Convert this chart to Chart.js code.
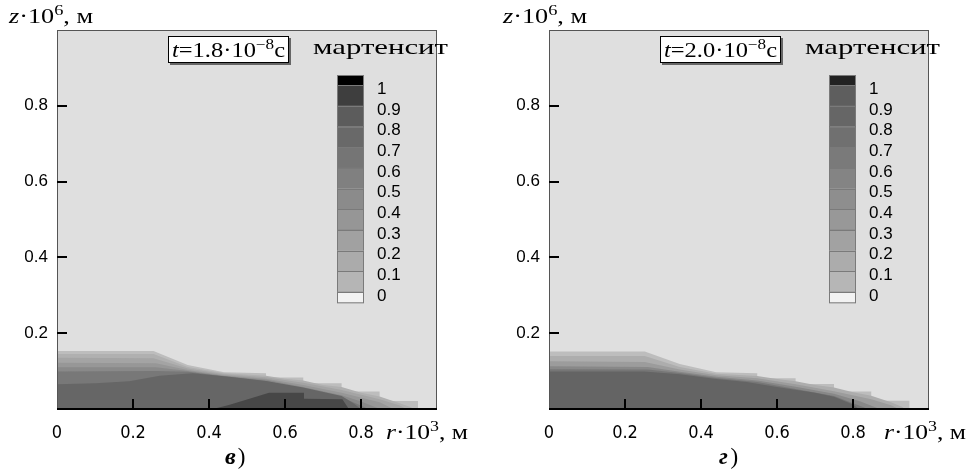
<!DOCTYPE html>
<html lang="ru">
<head>
<meta charset="UTF-8">
<title>Мартенсит</title>
<script src="https://cdn.jsdelivr.net/npm/chart.js"></script>
<style>
  html, body { margin: 0; padding: 0; background: #fff; }
  .wrap { display: flex; width: 970px; height: 472px; }
  canvas { display: block; }
</style>
</head>
<body>
<div class="wrap">
  <canvas id="chartB" width="485" height="472"></canvas>
  <canvas id="chartG" width="485" height="472"></canvas>
</div>
<script>
// axis ticks
const rTicks = [0, 0.2, 0.4, 0.6, 0.8];
const zTicks = [0.2, 0.4, 0.6, 0.8];
const levelLabels = ['1', '0.9', '0.8', '0.7', '0.6', '0.5', '0.4', '0.3', '0.2', '0.1', '0'];

// panel в), t = 1.8e-8 c : upper edge of each flooded band, [r, z], outer -> inner
const bOuter = [[0,0.153],[0.254,0.153],[0.344,0.116],[0.44,0.097],[0.55,0.094],[0.55,0.083],[0.648,0.083],[0.648,0.068],[0.749,0.068],[0.749,0.046],[0.849,0.046],[0.849,0.021],[0.95,0.021],[0.95,0]];
const bBand2 = [[0,0.145],[0.254,0.145],[0.344,0.111],[0.44,0.094],[0.55,0.088],[0.6,0.08],[0.648,0.075],[0.7,0.063],[0.749,0.058],[0.8,0.043],[0.849,0.033],[0.9,0.016],[0.93,0.005],[0.94,0]];
const bBand3 = [[0,0.135],[0.254,0.134],[0.344,0.107],[0.44,0.092],[0.55,0.084],[0.648,0.069],[0.749,0.05],[0.849,0.026],[0.9,0.01],[0.92,0]];
const bBand4 = [[0,0.122],[0.26,0.121],[0.344,0.103],[0.44,0.089],[0.55,0.08],[0.648,0.063],[0.749,0.043],[0.849,0.018],[0.885,0]];
const bBand5 = [[0,0.11],[0.26,0.11],[0.344,0.1],[0.44,0.087],[0.55,0.077],[0.648,0.058],[0.749,0.036],[0.8,0.02],[0.85,0]];
const bBand6 = [[0,0.099],[0.26,0.1],[0.344,0.098],[0.44,0.086],[0.55,0.074],[0.648,0.054],[0.749,0.031],[0.79,0.013],[0.82,0]];
const bCore = [[0,0.065],[0.1,0.068],[0.19,0.073],[0.27,0.088],[0.357,0.094],[0.453,0.085],[0.55,0.074],[0.648,0.057],[0.749,0.034],[0.78,0.015],[0.8,0]];
const bDark = [[0.41,0],[0.45,0.01],[0.5,0.025],[0.558,0.043],[0.65,0.043],[0.65,0.027],[0.751,0.026],[0.768,0]];

// panel г), t = 2.0e-8 c
const gOuter = [[0,0.152],[0.252,0.152],[0.344,0.119],[0.44,0.097],[0.548,0.094],[0.548,0.081],[0.649,0.081],[0.649,0.066],[0.75,0.066],[0.75,0.046],[0.848,0.046],[0.848,0.022],[0.949,0.022],[0.949,0]];
const gBand2 = [[0,0.14],[0.252,0.14],[0.344,0.111],[0.44,0.093],[0.548,0.087],[0.6,0.079],[0.649,0.073],[0.7,0.063],[0.75,0.057],[0.8,0.044],[0.848,0.035],[0.9,0.018],[0.93,0.005],[0.935,0]];
const gBand3 = [[0,0.126],[0.252,0.124],[0.344,0.104],[0.44,0.089],[0.548,0.081],[0.649,0.065],[0.75,0.047],[0.848,0.026],[0.9,0.01],[0.92,0]];
const gBand4 = [[0,0.113],[0.26,0.111],[0.344,0.098],[0.44,0.085],[0.548,0.075],[0.649,0.059],[0.75,0.04],[0.82,0.02],[0.87,0]];
const gBand5 = [[0,0.105],[0.26,0.104],[0.344,0.095],[0.44,0.082],[0.548,0.071],[0.649,0.053],[0.75,0.034],[0.8,0.015],[0.84,0]];
const gCore = [[0,0.099],[0.25,0.099],[0.344,0.092],[0.44,0.079],[0.52,0.071],[0.6,0.058],[0.7,0.043],[0.75,0.032],[0.8,0.012],[0.815,0]];

const bBands = [bOuter, bBand2, bBand3, bBand4, bBand5, bBand6, bCore, bDark];
const bColors = ['#bdbdbd', '#b0b0b0', '#a4a4a4', '#979797', '#898989', '#787878', '#666666', '#474747'];
const gBands = [gOuter, gBand2, gBand3, gBand4, gBand5, gCore];
const gColors = ['#bdbdbd', '#adadad', '#9c9c9c', '#888888', '#767676', '#646464'];

const bBarColors = ['#000000','#3e3e3e','#5c5c5c','#696969','#757575','#808080','#8b8b8b','#969696','#a1a1a1','#ababab','#b5b5b5','#f2f2f2'];
const gBarColors = ['#222222','#5e5e5e','#666666','#707070','#7a7a7a','#848484','#8e8e8e','#989898','#a2a2a2','#acacac','#b6b6b6','#f2f2f2'];

const SERIF = '"Liberation Serif", "DejaVu Serif", serif';
const SANS = '"Liberation Sans", Arial, sans-serif';

// draw a run of text pieces; sup pieces are raised; optional target width squeezes/stretches
function drawRich(ctx, parts, x, y, size, targetW) {
    const fontOf = p => `${p.italic ? 'italic ' : ''}${p.bold ? 'bold ' : ''}${p.sup ? Math.round(size * 0.7) : size}px ${SERIF}`;
    let w = 0;
    parts.forEach(p => { ctx.font = fontOf(p); w += ctx.measureText(p.t).width; });
    const k = targetW ? targetW / w : 1;
    ctx.save();
    ctx.translate(x, y);
    ctx.scale(k, 1);
    ctx.fillStyle = '#000';
    ctx.textBaseline = 'alphabetic';
    ctx.textAlign = 'left';
    let cx = 0;
    parts.forEach(p => {
        ctx.font = fontOf(p);
        ctx.fillText(p.t, cx, p.sup ? -size * 0.42 : 0);
        cx += ctx.measureText(p.t).width;
    });
    ctx.restore();
}

function makeChart(id, bands, colors, panel) {
    const datasets = bands.map((pts, i) => ({
        data: pts.map(([r, z]) => ({ x: r, y: z })),
        backgroundColor: colors[i],
        borderWidth: 0,
        pointRadius: 0,
        fill: 'origin',
        tension: 0,
        order: bands.length - i
    }));

    const decor = {
        id: 'decor',
        beforeDatasetsDraw(chart) {
            const { ctx, chartArea: a } = chart;
            ctx.save();
            ctx.fillStyle = '#dfdfdf';
            ctx.fillRect(a.left, a.top, a.right - a.left, a.bottom - a.top);
            ctx.restore();
        },
        afterDraw(chart) {
            const { ctx, chartArea: a, scales } = chart;
            ctx.save();
            // frame
            ctx.strokeStyle = '#555';
            ctx.lineWidth = 1;
            ctx.strokeRect(a.left + 0.5, a.top + 0.5, a.right - a.left - 1, a.bottom - a.top);
            ctx.strokeStyle = '#000';
            ctx.lineWidth = 2;
            ctx.beginPath();
            ctx.moveTo(a.left, a.bottom);
            ctx.lineTo(a.right, a.bottom);
            ctx.stroke();
            // inner ticks
            rTicks.slice(1).forEach(v => {
                const px = Math.round(scales.x.getPixelForValue(v));
                ctx.beginPath();
                ctx.moveTo(px, a.bottom);
                ctx.lineTo(px, a.bottom - 10);
                ctx.stroke();
            });
            zTicks.forEach(v => {
                const py = Math.round(scales.y.getPixelForValue(v));
                ctx.beginPath();
                ctx.moveTo(a.left, py);
                ctx.lineTo(a.left + 10, py);
                ctx.stroke();
            });

            // time box
            const bx = panel.boxX, by = 36, bw = 121, bh = 27;
            ctx.fillStyle = '#666';
            ctx.fillRect(bx + 2, by + 2, bw, bh);
            ctx.fillStyle = '#fff';
            ctx.fillRect(bx, by, bw, bh);
            ctx.strokeStyle = '#000';
            ctx.lineWidth = 1;
            ctx.strokeRect(bx + 0.5, by + 0.5, bw - 1, bh - 1);
            drawRich(ctx, [
                { t: 't', italic: true }, { t: '=' + panel.time + '·10' }, { t: '−8', sup: true }, { t: 'с' }
            ], bx + 4, by + 21, 20, bw - 8);

            // colour bar
            const cbX = panel.cbX, cbTop = 75, cbW = 27, full = 20.66;
            const hs = panel.barColors.map((c, i) => (i === 0 || i === panel.barColors.length - 1) ? full / 2 : full);
            let y = cbTop;
            panel.barColors.forEach((c, i) => {
                ctx.fillStyle = c;
                ctx.fillRect(cbX, y, cbW, hs[i]);
                ctx.strokeStyle = '#7a7a7a';
                ctx.lineWidth = 1;
                ctx.strokeRect(cbX + 0.5, Math.round(y) + 0.5, cbW - 1, hs[i]);
                y += hs[i];
            });
            ctx.fillStyle = '#000';
            ctx.font = `17px ${SANS}`;
            ctx.textAlign = 'left';
            ctx.textBaseline = 'middle';
            levelLabels.forEach((lab, i) => {
                ctx.fillText(lab, cbX + cbW + 13, cbTop + full / 2 + i * full + 4);
            });
            drawRich(ctx, [{ t: 'мартенсит' }], panel.cbX - 24, 54, 21, 135);

            // axis titles
            drawRich(ctx, [{ t: 'z', italic: true }, { t: '·10' }, { t: '6', sup: true }, { t: ', м' }], panel.zX, 23, 20, 84);
            drawRich(ctx, [{ t: 'r', italic: true }, { t: '·10' }, { t: '3', sup: true }, { t: ', м' }], panel.rX, 439, 20, 82);
            ctx.font = `bold italic 24px ${SERIF}`;
            ctx.textAlign = 'left';
            ctx.textBaseline = 'alphabetic';
            ctx.fillText(panel.caption, panel.capX, 464);
            ctx.font = `23px ${SERIF}`;
            ctx.fillText(')', panel.capX + ctx.measureText(panel.caption).width + 2, 464);
            ctx.restore();
        }
    };

    return new Chart(document.getElementById(id), {
        type: 'line',
        data: { datasets },
        options: {
            responsive: false,
            animation: false,
            events: [],
            layout: { padding: { top: 30, right: panel.padRight, left: 0, bottom: 0 } },
            plugins: { legend: { display: false }, tooltip: { enabled: false } },
            scales: {
                x: {
                    type: 'linear', min: 0, max: 1,
                    grid: { display: false, drawTicks: false },
                    border: { display: false },
                    afterBuildTicks: s => { s.ticks = rTicks.map(v => ({ value: v })); },
                    afterFit: s => { s.height = 63; },
                    ticks: {
                        padding: 14,
                        color: '#000',
                        font: { family: '"Liberation Sans Narrow", "DejaVu Sans Condensed", "Liberation Sans", sans-serif', size: 18 },
                        callback: v => String(v)
                    }
                },
                y: {
                    type: 'linear', min: 0, max: 1,
                    grid: { display: false, drawTicks: false },
                    border: { display: false },
                    afterBuildTicks: s => { s.ticks = zTicks.map(v => ({ value: v })); },
                    afterFit: s => { s.width = panel.left; },
                    ticks: {
                        padding: 9,
                        color: '#000',
                        font: { family: SANS, size: 17 },
                        callback: v => String(v)
                    }
                }
            }
        },
        plugins: [decor]
    });
}

makeChart('chartB', bBands, bColors, {
    time: '1.8', caption: 'в', barColors: bBarColors,
    left: 57, padRight: 48, boxX: 168, cbX: 337, zX: 9, rX: 386, capX: 225
});
makeChart('chartG', gBands, gColors, {
    time: '2.0', caption: 'г', barColors: gBarColors,
    left: 64, padRight: 41, boxX: 175, cbX: 344, zX: 18, rX: 399, capX: 234
});
</script>
</body>
</html>
